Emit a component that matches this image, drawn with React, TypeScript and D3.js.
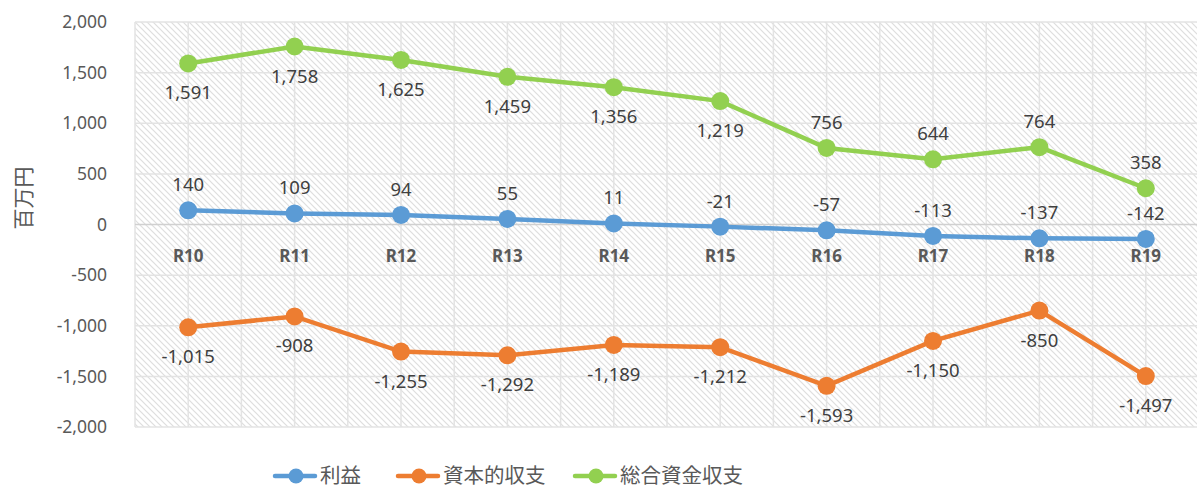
import { useMemo } from 'react';
import * as d3 from 'd3';

const categories = ['R10', 'R11', 'R12', 'R13', 'R14', 'R15', 'R16', 'R17', 'R18', 'R19'];
const rieki = [140, 109, 94, 55, 11, -21, -57, -113, -137, -142];
const shihon = [-1015, -908, -1255, -1292, -1189, -1212, -1593, -1150, -850, -1497];
const sogo = [1591, 1758, 1625, 1459, 1356, 1219, 756, 644, 764, 358];
const yTicks = [2000, 1500, 1000, 500, 0, -500, -1000, -1500, -2000];

// label placement per point: 'a' = above, 'b' = below
const riekiPos = ['a', 'a', 'a', 'a', 'a', 'a', 'a', 'a', 'a', 'a'];
const shihonPos = ['b', 'b', 'b', 'b', 'b', 'b', 'b', 'b', 'b', 'b'];
const sogoPos = ['b', 'b', 'b', 'b', 'b', 'b', 'a', 'a', 'a', 'a'];

const series = [
  { name: '利益', values: rieki, color: '#5B9BD5', pos: riekiPos },
  { name: '資本的収支', values: shihon, color: '#ED7D31', pos: shihonPos },
  { name: '総合資金収支', values: sogo, color: '#92D050', pos: sogoPos },
];

const W = 1197;
const H = 491;
const margin = { top: 22, right: -2, bottom: 64, left: 135 };
const textColor = '#595959';
const font = '"Noto Sans", "Noto Sans CJK JP", sans-serif';

const fmt = (v: number) => d3.format(',')(v).replace('\u2212', '-');

export default function App() {
  const innerW = W - margin.left - margin.right;
  const innerH = H - margin.top - margin.bottom;

  const x = useMemo(
    () => d3.scaleBand<string>().domain(categories).range([0, innerW]),
    [innerW]
  );
  const y = useMemo(() => d3.scaleLinear().domain([-2000, 2000]).range([innerH, 0]), [innerH]);
  const cx = (c: string) => (x(c) ?? 0) + x.bandwidth() / 2;

  // gridlines every half category
  const vLines: number[] = [];
  for (let i = 0; i <= categories.length * 2; i++) vLines.push((i * x.bandwidth()) / 2);

  const legendX = [275, 398, 575];

  return (
    <svg
      width={W}
      height={H}
      style={{ position: 'absolute', left: 0, top: 0, fontFamily: font }}
    >
      <defs>
        <pattern id="hatch" width="6" height="6" patternUnits="userSpaceOnUse">
          <rect width="6" height="6" fill="#fff" />
          <path d="M-1,-1 L7,7 M-1,5 L1,7 M5,-1 L7,1" stroke="#dedede" strokeWidth="1.2" />
        </pattern>
      </defs>
      <rect width={W} height={H} fill="#fff" />
      <g transform={`translate(${margin.left},${margin.top})`}>
        <rect width={innerW} height={innerH} fill="url(#hatch)" />
        {vLines.map((v, i) => (
          <line key={'v' + i} x1={v} x2={v} y1={0} y2={innerH} stroke="#e3e3e3" strokeWidth={1.5} />
        ))}
        {yTicks.map((t) => (
          <line
            key={'h' + t}
            x1={0}
            x2={innerW}
            y1={y(t)}
            y2={y(t)}
            stroke={t === 0 ? '#d0d0d0' : '#e3e3e3'}
            strokeWidth={1.5}
          />
        ))}
        {yTicks.map((t) => (
          <text
            key={'yt' + t}
            x={-28}
            y={y(t)}
            dy="0.35em"
            textAnchor="end"
            fontSize={17.5}
            fill={textColor}
          >
            {fmt(t)}
          </text>
        ))}
        {categories.map((c) => (
          <text
            key={c}
            x={cx(c)}
            y={y(0) + 37}
            textAnchor="middle"
            fontSize={17}
            fontWeight="bold"
            fill={textColor}
          >
            {c}
          </text>
        ))}
        {series.map((s) => {
          const line = d3
            .line<number>()
            .x((_, i) => cx(categories[i]))
            .y((d) => y(d));
          return (
            <g key={s.name}>
              <path d={line(s.values) ?? ''} fill="none" stroke={s.color} strokeWidth={4.5} />
              {s.values.map((v, i) => (
                <circle key={i} cx={cx(categories[i])} cy={y(v)} r={9} fill={s.color} />
              ))}
              {s.values.map((v, i) => (
                <text
                  key={'l' + i}
                  x={cx(categories[i])}
                  y={y(v) + (s.pos[i] === 'a' ? -19 : 36)}
                  textAnchor="middle"
                  fontSize={18.5}
                  fill="#404040"
                >
                  {fmt(v)}
                </text>
              ))}
            </g>
          );
        })}
      </g>
      <text
        transform={`translate(24,${198}) rotate(-90)`}
        textAnchor="middle"
        dy="0.35em"
        fontSize={21}
        fill={textColor}
        fontFamily='"Noto Sans CJK JP", sans-serif'
      >
        百万円
      </text>
      {series.map((s, i) => {
        const lx = legendX[i];
        const ly = 476;
        return (
          <g key={'lg' + s.name}>
            <line x1={lx} x2={lx + 40} y1={ly} y2={ly} stroke={s.color} strokeWidth={4.5} strokeLinecap="round" />
            <circle cx={lx + 21} cy={ly} r={7.5} fill={s.color} />
            <text
              x={lx + 45}
              y={ly}
              dy="0.35em"
              fontSize={20.5}
              fill={textColor}
              fontFamily='"Noto Sans CJK JP", sans-serif'
            >
              {s.name}
            </text>
          </g>
        );
      })}
    </svg>
  );
}
